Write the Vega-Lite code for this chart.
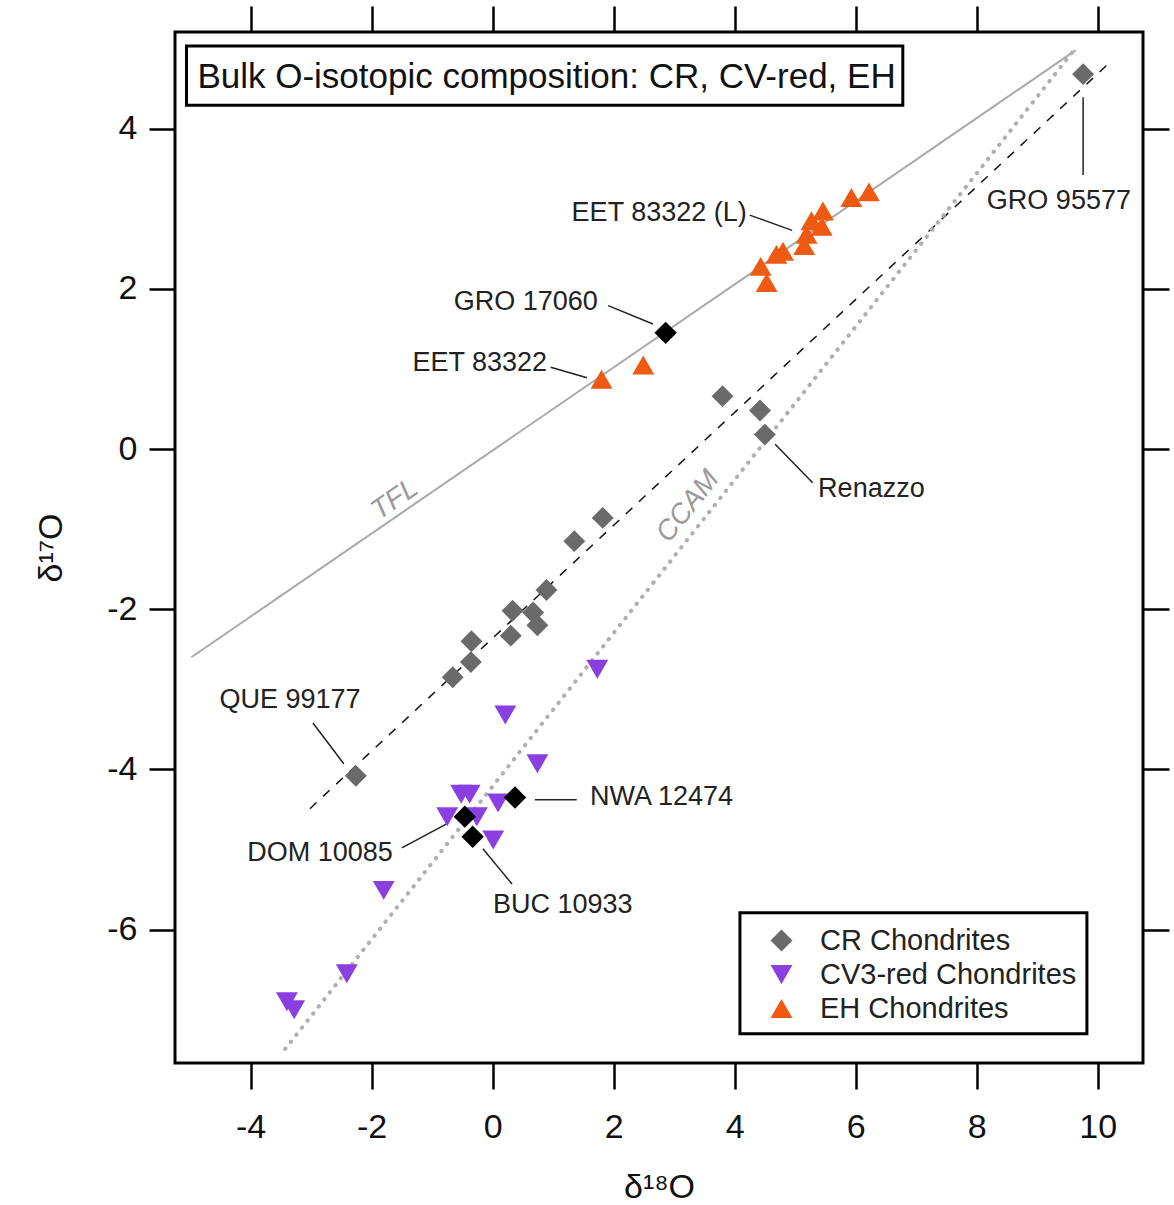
{
  "$schema": "https://vega.github.io/schema/vega-lite/v6.json",
  "width": 968,
  "height": 1031,
  "autosize": {"type": "none"},
  "padding": {"left": 175, "top": 32, "right": 31, "bottom": 142},
  "background": "white",
  "config": {
    "view": {"stroke": "#000000", "strokeWidth": 3},
    "font": "Liberation Sans",
    "axis": {
      "domain": false,
      "grid": false,
      "ticks": true,
      "tickColor": "#000000",
      "tickWidth": 2.5,
      "tickSize": 26,
      "labelFont": "Liberation Sans",
      "labelFontSize": 34,
      "labelColor": "#111111",
      "labelExpr": "replace(datum.label, '−', '-')",
      "titleFont": "Liberation Sans",
      "titleFontSize": 34,
      "titleFontWeight": "normal",
      "titleColor": "#111111"
    },
    "legend": {
      "labelFont": "Liberation Sans",
      "labelFontSize": 29,
      "labelColor": "#222222",
      "labelLimit": 0
    }
  },
  "datasets": {
    "samples": [
      {"group": "CR Chondrites", "d18O": 9.76, "d17O": 4.68},
      {"group": "CR Chondrites", "d18O": 3.80, "d17O": 0.66},
      {"group": "CR Chondrites", "d18O": 4.42, "d17O": 0.48},
      {"group": "CR Chondrites", "d18O": 4.50, "d17O": 0.18},
      {"group": "CR Chondrites", "d18O": 1.82, "d17O": -0.86},
      {"group": "CR Chondrites", "d18O": 1.35, "d17O": -1.15},
      {"group": "CR Chondrites", "d18O": 0.89, "d17O": -1.76},
      {"group": "CR Chondrites", "d18O": 0.33, "d17O": -2.02},
      {"group": "CR Chondrites", "d18O": 0.67, "d17O": -2.04},
      {"group": "CR Chondrites", "d18O": 0.74, "d17O": -2.20},
      {"group": "CR Chondrites", "d18O": 0.30, "d17O": -2.33},
      {"group": "CR Chondrites", "d18O": -0.35, "d17O": -2.40},
      {"group": "CR Chondrites", "d18O": -0.36, "d17O": -2.66},
      {"group": "CR Chondrites", "d18O": -0.66, "d17O": -2.85},
      {"group": "CR Chondrites", "d18O": -2.26, "d17O": -4.08},
      {"group": "CV3-red Chondrites", "d18O": 1.73, "d17O": -2.75},
      {"group": "CV3-red Chondrites", "d18O": 0.21, "d17O": -3.32},
      {"group": "CV3-red Chondrites", "d18O": 0.74, "d17O": -3.93},
      {"group": "CV3-red Chondrites", "d18O": -0.52, "d17O": -4.31},
      {"group": "CV3-red Chondrites", "d18O": -0.38, "d17O": -4.31},
      {"group": "CV3-red Chondrites", "d18O": 0.09, "d17O": -4.42},
      {"group": "CV3-red Chondrites", "d18O": -0.75, "d17O": -4.59},
      {"group": "CV3-red Chondrites", "d18O": -0.26, "d17O": -4.59},
      {"group": "CV3-red Chondrites", "d18O": 0.01, "d17O": -4.88},
      {"group": "CV3-red Chondrites", "d18O": -1.80, "d17O": -5.51},
      {"group": "CV3-red Chondrites", "d18O": -2.41, "d17O": -6.55},
      {"group": "CV3-red Chondrites", "d18O": -3.40, "d17O": -6.90},
      {"group": "CV3-red Chondrites", "d18O": -3.28, "d17O": -7.00},
      {"group": "EH Chondrites", "d18O": 1.80, "d17O": 0.87},
      {"group": "EH Chondrites", "d18O": 2.49, "d17O": 1.05},
      {"group": "EH Chondrites", "d18O": 4.43, "d17O": 2.28},
      {"group": "EH Chondrites", "d18O": 4.53, "d17O": 2.08},
      {"group": "EH Chondrites", "d18O": 4.69, "d17O": 2.43},
      {"group": "EH Chondrites", "d18O": 4.80, "d17O": 2.47},
      {"group": "EH Chondrites", "d18O": 5.15, "d17O": 2.54},
      {"group": "EH Chondrites", "d18O": 5.19, "d17O": 2.68},
      {"group": "EH Chondrites", "d18O": 5.27, "d17O": 2.85},
      {"group": "EH Chondrites", "d18O": 5.44, "d17O": 2.78},
      {"group": "EH Chondrites", "d18O": 5.46, "d17O": 2.97},
      {"group": "EH Chondrites", "d18O": 5.93, "d17O": 3.14},
      {"group": "EH Chondrites", "d18O": 6.22, "d17O": 3.21}
    ],
    "highlighted": [
      {"name": "GRO 17060", "d18O": 2.86, "d17O": 1.45},
      {"name": "NWA 12474", "d18O": 0.37, "d17O": -4.35},
      {"name": "DOM 10085", "d18O": -0.46, "d17O": -4.59},
      {"name": "BUC 10933", "d18O": -0.33, "d17O": -4.84}
    ],
    "tfl": [
      {"d18O": -4.98, "d17O": -2.60},
      {"d18O": 9.64, "d17O": 4.98}
    ],
    "crline": [
      {"d18O": -3.02, "d17O": -4.49},
      {"d18O": 10.15, "d17O": 4.79}
    ],
    "ccam": [
      {"d18O": -3.43, "d17O": -7.49},
      {"d18O": 9.61, "d17O": 4.98}
    ],
    "leaders": [
      {"x": 9.76, "y": 4.39, "x2": 9.76, "y2": 3.42},
      {"x": 4.25, "y": 2.92, "x2": 4.95, "y2": 2.73},
      {"x": 1.91, "y": 1.79, "x2": 2.65, "y2": 1.56},
      {"x": 0.96, "y": 1.02, "x2": 1.56, "y2": 0.89},
      {"x": 4.67, "y": 0.06, "x2": 5.29, "y2": -0.42},
      {"x": -2.97, "y": -3.42, "x2": -2.46, "y2": -3.93},
      {"x": -1.50, "y": -4.98, "x2": -0.76, "y2": -4.68},
      {"x": -0.16, "y": -4.99, "x2": 0.32, "y2": -5.43},
      {"x": 0.70, "y": -4.38, "x2": 1.39, "y2": -4.38}
    ],
    "labelsRight": [
      {"label": "EET 83322 (L)", "x": 4.20, "y": 2.95},
      {"label": "GRO 17060", "x": 1.74, "y": 1.84},
      {"label": "EET 83322", "x": 0.90, "y": 1.08},
      {"label": "DOM 10085", "x": -1.65, "y": -5.04}
    ],
    "labelsLeft": [
      {"label": "Renazzo", "x": 5.38, "y": -0.50},
      {"label": "BUC 10933", "x": 0.005, "y": -5.69},
      {"label": "NWA 12474", "x": 1.61, "y": -4.35}
    ],
    "labelsCenter": [
      {"label": "GRO 95577", "x": 9.36, "y": 3.09},
      {"label": "QUE 99177", "x": -3.35, "y": -3.13}
    ],
    "tflLabel": [{"label": "TFL", "x": -1.615, "y": -0.633}],
    "ccamLabel": [{"label": "CCAM", "x": 3.233, "y": -0.717}],
    "titleBox": [{"x": -5.06, "x2": 6.78, "y": 4.29, "y2": 5.03}],
    "legendBox": [{"x": 4.088, "x2": 9.823, "y": -5.789, "y2": -7.30}],
    "titleText": [{"label": "Bulk O-isotopic composition: CR, CV-red, EH", "x": -4.88, "y": 4.65}]
  },
  "layer": [
    {
      "data": {"name": "tfl"},
      "mark": {"type": "line", "color": "#a9a9a9", "strokeWidth": 2},
      "encoding": {
        "x": {"field": "d18O", "type": "quantitative", "scale": {"domain": [-5.25, 10.75], "nice": false, "zero": false},
              "axis": {"orient": "top", "values": [-4, -2, 0, 2, 4, 6, 8, 10], "labels": false, "title": null}},
        "y": {"field": "d17O", "type": "quantitative", "scale": {"domain": [-7.665, 5.206], "nice": false, "zero": false},
              "axis": {"orient": "right", "values": [-6, -4, -2, 0, 2, 4], "labels": false, "title": null}}
      }
    },
    {
      "data": {"name": "crline"},
      "mark": {"type": "line", "color": "#111111", "strokeWidth": 1.5, "strokeDash": [9, 9]},
      "encoding": {
        "x": {"field": "d18O", "type": "quantitative", "axis": null},
        "y": {"field": "d17O", "type": "quantitative", "axis": null}
      }
    },
    {
      "data": {"name": "ccam"},
      "mark": {"type": "line", "color": "#b0b0b0", "strokeWidth": 4, "strokeDash": [0.5, 8.5], "strokeCap": "round"},
      "encoding": {
        "x": {"field": "d18O", "type": "quantitative", "axis": null},
        "y": {"field": "d17O", "type": "quantitative", "axis": null}
      }
    },
    {
      "data": {"name": "tflLabel"},
      "mark": {"type": "text", "font": "Liberation Sans", "fontSize": 28, "fontStyle": "italic", "color": "#9a9a9a", "angle": 325.4, "align": "center", "baseline": "middle"},
      "encoding": {
        "x": {"field": "x", "type": "quantitative", "axis": null},
        "y": {"field": "y", "type": "quantitative", "axis": null},
        "text": {"field": "label"}
      }
    },
    {
      "data": {"name": "ccamLabel"},
      "mark": {"type": "text", "font": "Liberation Sans", "fontSize": 28, "fontStyle": "italic", "color": "#9a9a9a", "angle": 308.5, "align": "center", "baseline": "middle"},
      "encoding": {
        "x": {"field": "x", "type": "quantitative", "axis": null},
        "y": {"field": "y", "type": "quantitative", "axis": null},
        "text": {"field": "label"}
      }
    },
    {
      "data": {"name": "leaders"},
      "mark": {"type": "rule", "color": "#222222", "strokeWidth": 1.5},
      "encoding": {
        "x": {"field": "x", "type": "quantitative", "axis": null},
        "y": {"field": "y", "type": "quantitative", "axis": null},
        "x2": {"field": "x2"},
        "y2": {"field": "y2"}
      }
    },
    {
      "data": {"name": "legendBox"},
      "mark": {"type": "rect", "fill": "#ffffff", "stroke": "#000000", "strokeWidth": 3},
      "encoding": {
        "x": {"field": "x", "type": "quantitative", "axis": null},
        "x2": {"field": "x2"},
        "y": {"field": "y", "type": "quantitative", "axis": null},
        "y2": {"field": "y2"}
      }
    },
    {
      "data": {"name": "samples"},
      "mark": {"type": "point", "filled": true, "opacity": 1, "size": 480, "strokeWidth": 0},
      "encoding": {
        "x": {"field": "d18O", "type": "quantitative",
              "axis": {"orient": "bottom", "values": [-4, -2, 0, 2, 4, 6, 8, 10], "labelPadding": 21, "title": "δ¹⁸O", "titlePadding": 26}},
        "y": {"field": "d17O", "type": "quantitative",
              "axis": {"orient": "left", "values": [-6, -4, -2, 0, 2, 4], "labelPadding": 12, "title": "δ¹⁷O", "titlePadding": 38}},
        "color": {"field": "group", "type": "nominal",
                  "scale": {"domain": ["CR Chondrites", "CV3-red Chondrites", "EH Chondrites"], "range": ["#6a6a6a", "#8a40e0", "#ee5a12"]},
                  "legend": {"title": null, "orient": "none", "legendX": 565, "legendY": 881, "padding": 13, "symbolSize": 480, "symbolStrokeWidth": 0, "symbolOffset": 14, "labelOffset": 24, "rowPadding": 4, "labelLimit": 0}},
        "shape": {"field": "group", "type": "nominal",
                  "scale": {"domain": ["CR Chondrites", "CV3-red Chondrites", "EH Chondrites"], "range": ["diamond", "triangle-down", "triangle-up"]},
                  "legend": {"title": null, "orient": "none", "legendX": 565, "legendY": 881, "padding": 13, "symbolSize": 480, "symbolStrokeWidth": 0, "symbolOffset": 14, "labelOffset": 24, "rowPadding": 4, "labelLimit": 0}}
      }
    },
    {
      "data": {"name": "highlighted"},
      "mark": {"type": "point", "filled": true, "opacity": 1, "size": 500, "shape": "diamond", "color": "#000000", "strokeWidth": 0},
      "encoding": {
        "x": {"field": "d18O", "type": "quantitative", "axis": null},
        "y": {"field": "d17O", "type": "quantitative", "axis": null}
      }
    },
    {
      "data": {"name": "labelsRight"},
      "mark": {"type": "text", "font": "Liberation Sans", "fontSize": 27, "color": "#222222", "align": "right", "baseline": "middle"},
      "encoding": {
        "x": {"field": "x", "type": "quantitative", "axis": null},
        "y": {"field": "y", "type": "quantitative", "axis": null},
        "text": {"field": "label"}
      }
    },
    {
      "data": {"name": "labelsLeft"},
      "mark": {"type": "text", "font": "Liberation Sans", "fontSize": 27, "color": "#222222", "align": "left", "baseline": "middle"},
      "encoding": {
        "x": {"field": "x", "type": "quantitative", "axis": null},
        "y": {"field": "y", "type": "quantitative", "axis": null},
        "text": {"field": "label"}
      }
    },
    {
      "data": {"name": "labelsCenter"},
      "mark": {"type": "text", "font": "Liberation Sans", "fontSize": 27, "color": "#222222", "align": "center", "baseline": "middle"},
      "encoding": {
        "x": {"field": "x", "type": "quantitative", "axis": null},
        "y": {"field": "y", "type": "quantitative", "axis": null},
        "text": {"field": "label"}
      }
    },
    {
      "data": {"name": "titleBox"},
      "mark": {"type": "rect", "fill": "#ffffff", "stroke": "#000000", "strokeWidth": 3},
      "encoding": {
        "x": {"field": "x", "type": "quantitative", "axis": null},
        "x2": {"field": "x2"},
        "y": {"field": "y", "type": "quantitative", "axis": null},
        "y2": {"field": "y2"}
      }
    },
    {
      "data": {"name": "titleText"},
      "mark": {"type": "text", "font": "Liberation Sans", "fontSize": 35, "color": "#111111", "align": "left", "baseline": "middle"},
      "encoding": {
        "x": {"field": "x", "type": "quantitative", "axis": null},
        "y": {"field": "y", "type": "quantitative", "axis": null},
        "text": {"field": "label"}
      }
    }
  ]
}
